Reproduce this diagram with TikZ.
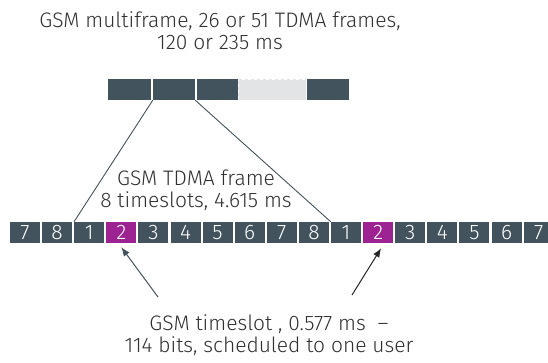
\documentclass[tikz,border=0pt]{standalone}
\usepackage{fontspec}
\setmainfont{Fira Sans Light}
\usepackage{tikz}
\usetikzlibrary{positioning,arrows.meta,calc}
\definecolor{slate}{HTML}{43535E}
\definecolor{plum}{HTML}{9C2391}
\definecolor{fog}{HTML}{E3E4E5}
\definecolor{ink}{HTML}{303030}
\tikzset{
  slotbox/.style={fill=slate,text=white,minimum width=30pt,minimum height=21pt,
                  inner sep=0pt,font=\fontsize{21}{21}\selectfont},
  hislot/.style={slotbox,fill=plum},
  mfbox/.style={fill=slate,minimum height=21pt,inner sep=0pt},
  lbl/.style={align=center,text=ink,font=\fontsize{21}{22}\selectfont},
  frameline/.style={draw=slate,line width=0.9pt},
  ptr/.style={-{Latex[length=9pt,width=7pt]},line width=1pt}
}
\begin{document}
\begin{tikzpicture}[x=1pt,y=-1pt]
\useasboundingbox (0,0) rectangle (548,362);

% multiframe
\node[mfbox, minimum width=43pt] (m1) at (129.5,89.5) {};
\node[mfbox, minimum width=42pt] (m2) at (174,89.5) {};
\node[mfbox, minimum width=41pt] (m3) at (217.5,89.5) {};
\node[fill=fog, draw=white, dashed, line width=0.8pt, minimum width=68pt,
      minimum height=21pt, inner sep=0pt] (m4) at (272,89.5) {};
\node[mfbox, minimum width=42pt] (m5) at (328,89.5) {};

% timeslots
\foreach \lab [count=\i from 0] in {7,8,1,2,3,4,5,6,7,8,1,2,3,4,5,6,7} {
  \ifnum\lab=2 \def\sty{hislot}\else\def\sty{slotbox}\fi
  \node[\sty] (s\i) at ({25+32.1*\i},232.5) {\lab};
}

% zoom lines
\draw[frameline] (m2.south west) -- (s2.north west);
\draw[frameline] (m2.south east) -- (s10.north west);

% labels
\node[lbl] (mftext) at (220,31) {GSM multiframe, 26 or 51 TDMA frames,\\120 or 235 ms};
\node[lbl] (frtext) at (196,190) {GSM TDMA frame\\8 timeslots, 4.615 ms};
\node[lbl] (tstext) at (269,335) {GSM timeslot , 0.577 ms~~--\\114 bits, scheduled to one user};

% pointers
\coordinate (ltail) at (158,297);
\coordinate (rtail) at (352,295);
\draw[ptr, slate] (ltail) -- ([yshift=-4pt]s3.south);
\draw[ptr, black!85] (rtail) -- ([yshift=-5pt,xshift=3pt]s11.south);
\end{tikzpicture}
\end{document}
